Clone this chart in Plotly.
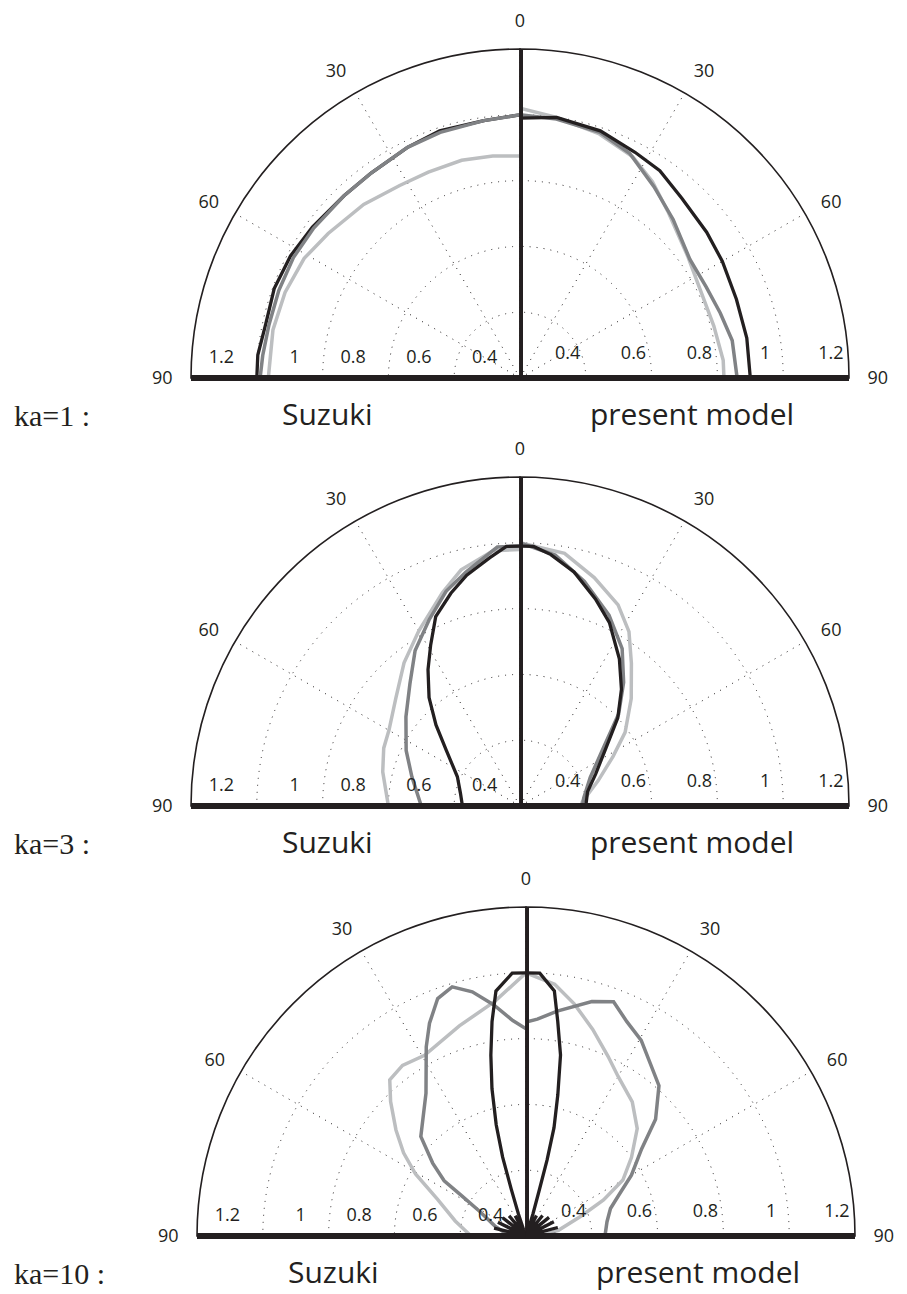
import plotly.graph_objects as go

# ---------------- data ----------------
RADIAL_RANGE = [0.2, 1.2]
RADIAL_TICKS = [0.4, 0.6, 0.8, 1.0, 1.2]
RADIAL_TICK_TEXT = ["0.4", "0.6", "0.8", "1", "1.2"]
ANGLE_TICKS_LEFT = [30, 60, 90]
ANGLE_TICKS_RIGHT = [0, 30, 60, 90]
CASE_LABELS = ["ka=1 :", "ka=3 :", "ka=10 :"]
SIDE_LABELS = ["Suzuki", "present model"]

# ka = 1, Suzuki (left half)
KA1_SUZ_BLACK_T = [0, 8, 18, 26, 36, 44, 54, 62, 70, 78, 85, 90]
KA1_SUZ_BLACK_R = [1.00, 0.99, 0.99, 0.98, 0.97, 0.97, 0.98, 0.99, 0.995, 0.99, 1.0, 1.0]
KA1_SUZ_DARK_T = [0, 8, 18, 26, 36, 44, 54, 62, 70, 78, 85, 90]
KA1_SUZ_DARK_R = [1.00, 0.99, 0.985, 0.98, 0.97, 0.97, 0.975, 0.98, 0.98, 0.98, 0.985, 0.99]
KA1_SUZ_LIGHT_T = [0, 7, 15, 24, 32, 42, 53, 61, 70, 79, 90]
KA1_SUZ_LIGHT_R = [0.875, 0.88, 0.885, 0.885, 0.89, 0.91, 0.93, 0.95, 0.96, 0.965, 0.965]
# ka = 1, present model (right half)
KA1_PRE_BLACK_T = [0, 8, 18, 27, 34, 42, 52, 60, 70, 80, 90]
KA1_PRE_BLACK_R = [0.99, 1.0, 0.99, 0.97, 0.96, 0.935, 0.92, 0.91, 0.90, 0.90, 0.90]
KA1_PRE_DARK_T = [0, 8, 18, 26, 35, 44, 55, 64, 72, 80, 90]
KA1_PRE_DARK_R = [1.0, 0.995, 0.985, 0.96, 0.91, 0.87, 0.83, 0.83, 0.84, 0.855, 0.86]
KA1_PRE_LIGHT_T = [0, 8, 18, 27, 34, 42, 54, 64, 75, 85, 90]
KA1_PRE_LIGHT_R = [1.02, 1.0, 0.98, 0.955, 0.92, 0.875, 0.83, 0.81, 0.81, 0.82, 0.82]

# ka = 3, Suzuki
KA3_SUZ_BLACK_T = [0, 3, 7, 13, 18, 24, 29, 34, 40, 46, 53, 65, 78, 90]
KA3_SUZ_BLACK_R = [0.99, 0.99, 0.96, 0.92, 0.88, 0.83, 0.76, 0.70, 0.63, 0.555, 0.48, 0.41, 0.385, 0.375]
KA3_SUZ_DARK_T = [0, 5, 13, 19, 26, 34, 42, 52, 64, 75, 90]
KA3_SUZ_DARK_R = [0.99, 0.99, 0.93, 0.89, 0.83, 0.77, 0.70, 0.64, 0.585, 0.54, 0.50]
KA3_SUZ_LIGHT_T = [0, 6, 14, 20, 30, 39, 49, 60, 67, 76, 90]
KA3_SUZ_LIGHT_R = [0.98, 0.98, 0.94, 0.89, 0.815, 0.76, 0.70, 0.66, 0.65, 0.63, 0.60]
# ka = 3, present model
KA3_PRE_BLACK_T = [0, 3, 7, 13, 20, 26, 34, 41, 48, 56, 67, 78, 90]
KA3_PRE_BLACK_R = [0.99, 0.99, 0.97, 0.93, 0.87, 0.82, 0.74, 0.67, 0.60, 0.515, 0.45, 0.41, 0.40]
KA3_PRE_DARK_T = [0, 8, 16, 25, 33, 40, 47, 55, 68, 83, 90]
KA3_PRE_DARK_R = [1.0, 0.97, 0.91, 0.84, 0.77, 0.69, 0.61, 0.51, 0.43, 0.395, 0.39]
KA3_PRE_LIGHT_T = [0, 10, 18, 26, 32, 38, 46, 55, 62, 72, 86, 90]
KA3_PRE_LIGHT_R = [1.0, 0.98, 0.93, 0.88, 0.825, 0.75, 0.67, 0.59, 0.52, 0.45, 0.39, 0.385]

# ka = 10, Suzuki
KA10_SUZ_BLACK_T = [0, 3, 7, 9, 11, 13, 15, 16.5, 17.5, 19, 21, 23, 28, 34, 40, 46, 52, 58, 64, 70, 76, 82, 88, 90]
KA10_SUZ_BLACK_R = [1.0, 1.0, 0.95, 0.86, 0.76, 0.66, 0.55, 0.45, 0.35, 0.27, 0.22, 0.205, 0.27, 0.205, 0.28,
                    0.205, 0.29, 0.205, 0.295, 0.205, 0.3, 0.205, 0.29, 0.27]
KA10_SUZ_DARK_T = [0, 3.5, 8, 12.4, 16.5, 20.4, 24.4, 27.8, 35, 46.6, 52, 56, 58, 62, 72, 90]
KA10_SUZ_DARK_R = [0.83, 0.856, 0.91, 0.96, 0.99, 0.97, 0.91, 0.85, 0.73, 0.64, 0.56, 0.50, 0.43, 0.36, 0.30, 0.25]
KA10_SUZ_LIGHT_T = [0, 7.5, 17.6, 29.3, 35.9, 41.1, 45.2, 50.8, 55.8, 60.7, 67.6, 78, 90]
KA10_SUZ_LIGHT_R = [1.0, 0.92, 0.87, 0.83, 0.84, 0.83, 0.78, 0.71, 0.65, 0.585, 0.49, 0.42, 0.367]
# ka = 10, present model
KA10_PRE_BLACK_T = [0, 3, 6.6, 8.4, 10.8, 12.7, 14.5, 15.5, 16.2, 17.5, 19.5, 22, 27, 33, 39, 45, 51, 57, 63, 69, 75, 81, 87, 90]
KA10_PRE_BLACK_R = [1.0, 1.0, 0.95, 0.86, 0.76, 0.64, 0.54, 0.44, 0.34, 0.27, 0.22, 0.205, 0.27, 0.205, 0.28,
                    0.205, 0.29, 0.205, 0.295, 0.205, 0.3, 0.205, 0.29, 0.27]
KA10_PRE_DARK_T = [0, 3, 7.9, 15.7, 20.5, 25.2, 30.5, 41.5, 48, 53, 60, 66, 72, 80, 90]
KA10_PRE_DARK_R = [0.85, 0.86, 0.89, 0.94, 0.96, 0.92, 0.89, 0.81, 0.73, 0.64, 0.57, 0.51, 0.47, 0.45, 0.44]
KA10_PRE_LIGHT_T = [0, 6.5, 11.8, 17.9, 24.6, 30, 38.4, 46, 53.3, 60, 65, 70, 80, 90]
KA10_PRE_LIGHT_R = [1.0, 0.97, 0.92, 0.86, 0.80, 0.76, 0.72, 0.67, 0.60, 0.54, 0.46, 0.38, 0.30, 0.245]

CURVES = [
    {
        "left": [("light", KA1_SUZ_LIGHT_T, KA1_SUZ_LIGHT_R), ("black", KA1_SUZ_BLACK_T, KA1_SUZ_BLACK_R),
                 ("dark", KA1_SUZ_DARK_T, KA1_SUZ_DARK_R)],
        "right": [("light", KA1_PRE_LIGHT_T, KA1_PRE_LIGHT_R), ("dark", KA1_PRE_DARK_T, KA1_PRE_DARK_R),
                  ("black", KA1_PRE_BLACK_T, KA1_PRE_BLACK_R)],
    },
    {
        "left": [("light", KA3_SUZ_LIGHT_T, KA3_SUZ_LIGHT_R), ("dark", KA3_SUZ_DARK_T, KA3_SUZ_DARK_R),
                 ("black", KA3_SUZ_BLACK_T, KA3_SUZ_BLACK_R)],
        "right": [("light", KA3_PRE_LIGHT_T, KA3_PRE_LIGHT_R), ("dark", KA3_PRE_DARK_T, KA3_PRE_DARK_R),
                  ("black", KA3_PRE_BLACK_T, KA3_PRE_BLACK_R)],
    },
    {
        "left": [("light", KA10_SUZ_LIGHT_T, KA10_SUZ_LIGHT_R), ("dark", KA10_SUZ_DARK_T, KA10_SUZ_DARK_R),
                 ("black", KA10_SUZ_BLACK_T, KA10_SUZ_BLACK_R)],
        "right": [("light", KA10_PRE_LIGHT_T, KA10_PRE_LIGHT_R), ("dark", KA10_PRE_DARK_T, KA10_PRE_DARK_R),
                  ("black", KA10_PRE_BLACK_T, KA10_PRE_BLACK_R)],
    },
]

# ---------------- style / geometry ----------------
PAGE_W, PAGE_H = 907, 1294
PAGE_MARGIN = 8                     # default <body> margin of the html page
W, H = PAGE_W - PAGE_MARGIN, PAGE_H - PAGE_MARGIN
R_PX = 329
CENTERS = [(520, 378), (520, 806), (526, 1236)]   # page pixels of each pole
LABEL_SHIFT = {"left": 0.131, "right": 0.055}
INK = "#231f20"
COLORS = {"light": "#bcbec0", "dark": "#808285", "black": INK}
WIDTHS = {"light": 3.5, "dark": 3.5, "black": 3.3}
SANS = "Open Sans"
SERIF = "Liberation Serif"
TICK_FONT = dict(family=SANS, size=18, color=INK)
GRID_DASH = "1px,6px"


def px_x(px):
    return (px - PAGE_MARGIN) / W


def px_y(py):
    return 1 - (py - PAGE_MARGIN) / H


fig = go.Figure()
polars = {}
n = 0
for i, (cx, cy) in enumerate(CENTERS):
    dom_y = [px_y(cy), px_y(cy - R_PX)]
    for side in ("left", "right"):
        left = side == "left"
        dom_x = [px_x(cx - R_PX), px_x(cx)] if left else [px_x(cx), px_x(cx + R_PX)]
        sector = [90, 180] if left else [0, 90]
        direction = "counterclockwise" if left else "clockwise"
        ax_angle = 180 if left else 0

        # data / grid polar
        n += 1
        key = "polar" if n == 1 else f"polar{n}"
        polars[key] = dict(
            domain=dict(x=dom_x, y=dom_y),
            sector=sector,
            bgcolor="rgba(0,0,0,0)",
            angularaxis=dict(
                rotation=90, direction=direction,
                tickmode="array", tickvals=ANGLE_TICKS_LEFT if left else ANGLE_TICKS_RIGHT,
                ticks="outside", ticklen=14, tickcolor="rgba(0,0,0,0)",
                tickfont=TICK_FONT,
                showline=True, linecolor=INK, linewidth=1.6,
                showgrid=True, gridcolor=INK, gridwidth=1.1, griddash=GRID_DASH,
            ),
            radialaxis=dict(
                range=RADIAL_RANGE, angle=ax_angle,
                tickmode="array", tickvals=RADIAL_TICKS,
                showticklabels=False, ticks="",
                showline=True, linecolor=INK, linewidth=6,
                showgrid=True, gridcolor=INK, gridwidth=1.1, griddash=GRID_DASH,
            ),
        )
        for color, th, rr in CURVES[i][side]:
            fig.add_trace(go.Scatterpolar(
                r=rr, theta=th, mode="lines", subplot=key,
                line=dict(color=COLORS[color], width=WIDTHS[color]),
                name=f"{CASE_LABELS[i]} {SIDE_LABELS[0 if left else 1]} ({color})",
                hoverinfo="skip",
            ))
        if not left:
            # vertical 0-degree axis line
            fig.add_trace(go.Scatterpolar(
                r=RADIAL_RANGE, theta=[0, 0], mode="lines", subplot=key,
                line=dict(color=INK, width=6), cliponaxis=False, hoverinfo="skip",
            ))

        # radial tick-label polar (labels sit just inside each grid circle)
        n += 1
        key_l = f"polar{n}"
        polars[key_l] = dict(
            domain=dict(x=dom_x, y=dom_y),
            sector=sector,
            bgcolor="rgba(0,0,0,0)",
            angularaxis=dict(visible=False, rotation=90, direction=direction),
            radialaxis=dict(
                range=RADIAL_RANGE, angle=ax_angle,
                side="clockwise" if left else "counterclockwise",
                tickmode="array",
                tickvals=[v - LABEL_SHIFT[side] for v in RADIAL_TICKS],
                ticktext=RADIAL_TICK_TEXT,
                ticks="outside", ticklen=11, tickcolor="rgba(0,0,0,0)",
                tickangle=180 if left else 0,
                tickfont=TICK_FONT,
                showline=False, showgrid=False,
            ),
        )
        fig.add_trace(go.Scatterpolar(r=[], theta=[], subplot=key_l, hoverinfo="skip"))

annotations = []
for i, (cx, cy) in enumerate(CENTERS):
    annotations.append(dict(text=CASE_LABELS[i], x=px_x(12), y=px_y(cy + 37), xref="paper", yref="paper",
                            xanchor="left", yanchor="middle", showarrow=False,
                            font=dict(family=SERIF, size=30, color=INK)))
    annotations.append(dict(text=SIDE_LABELS[0], x=px_x(cx - 193), y=px_y(cy + 35), xref="paper",
                            yref="paper", xanchor="center", yanchor="middle", showarrow=False,
                            font=dict(family=SANS, size=30, color=INK)))
    annotations.append(dict(text=SIDE_LABELS[1], x=px_x(cx + 172), y=px_y(cy + 35), xref="paper",
                            yref="paper", xanchor="center", yanchor="middle", showarrow=False,
                            font=dict(family=SANS, size=30, color=INK)))

fig.update_layout(
    width=W, height=H,
    margin=dict(l=0, r=0, t=0, b=0),
    paper_bgcolor="white", plot_bgcolor="white",
    showlegend=False,
    annotations=annotations,
    **polars,
)

fig.write_html("out.html")
